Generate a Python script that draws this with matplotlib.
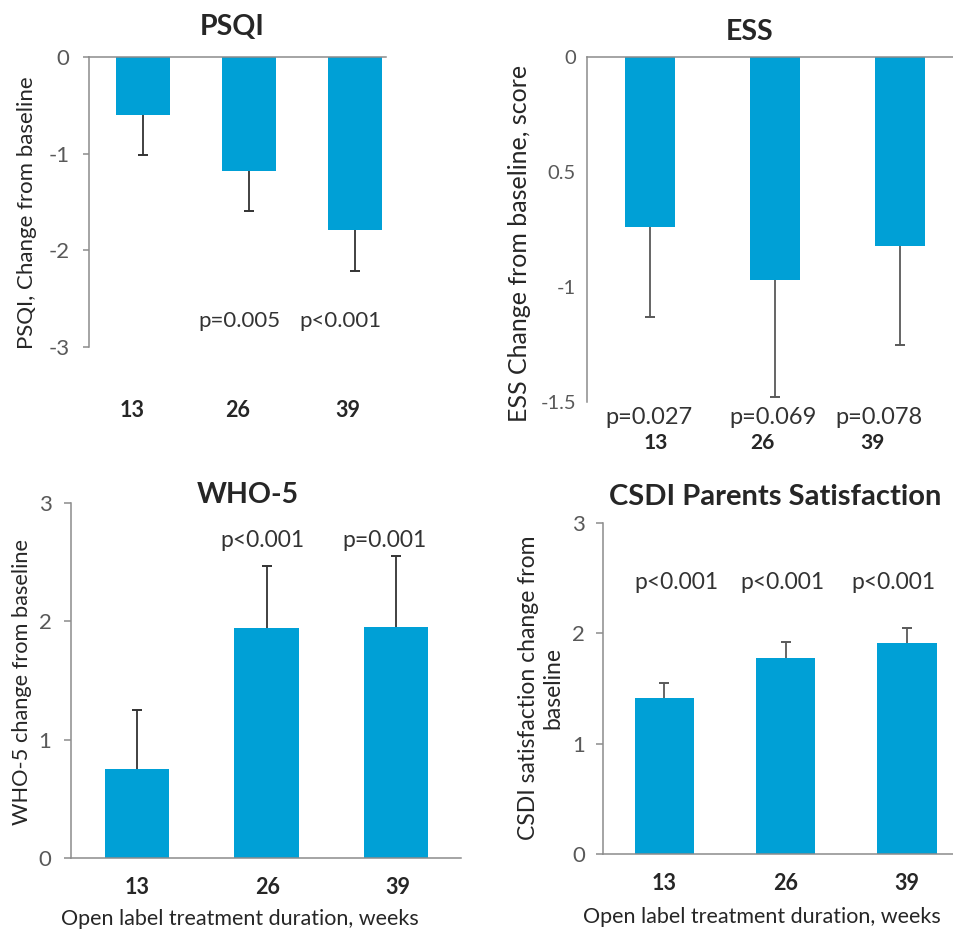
import numpy as np
import matplotlib
matplotlib.use("Agg")
import matplotlib.pyplot as plt
from matplotlib.transforms import blended_transform_factory

plt.rcParams['font.family'] = ['Lato', 'DejaVu Sans']

# ---------------- data ----------------
weeks = ["13", "26", "39"]

psqi_mean = [-0.60, -1.18, -1.79]
psqi_err = [0.41, 0.41, 0.42]
psqi_p = ["", "p=0.005", "p<0.001"]

ess_mean = [-0.74, -0.97, -0.82]
ess_err = [0.39, 0.51, 0.43]
ess_p = ["p=0.027", "p=0.069", "p=0.078"]

who_mean = [0.75, 1.94, 1.95]
who_err = [0.50, 0.53, 0.60]
who_p = ["", "p<0.001", "p=0.001"]

csdi_mean = [1.41, 1.78, 1.91]
csdi_err = [0.14, 0.14, 0.14]
csdi_p = ["p<0.001", "p<0.001", "p<0.001"]

psqi_yticks = [0, -1, -2, -3]
psqi_yticklabels = ["0", "-1", "-2", "-3"]
ess_yticks = [0, -0.5, -1, -1.5]
ess_yticklabels = ["0", "0.5", "-1", "-1.5"]
pos_yticks = [0, 1, 2, 3]
pos_yticklabels = ["0", "1", "2", "3"]

# ---------------- style ----------------
W, H = 954, 931
BAR = '#00A0D6'
AXC = '#8C8C8C'
TXT = '#262626'
TICKC = '#595959'

fig = plt.figure(figsize=(W / 100, H / 100), dpi=100)


def px_axes(l, r, t, b):
    return fig.add_axes([l / W, 1 - b / H, (r - l) / W, (b - t) / H])


def ftext(x, y, s, **kw):
    fig.text(x / W, 1 - y / H, s, ha='center', va='center', **kw)


def style(ax, top_zero, tick_len, pad, tsize):
    for s in ax.spines.values():
        s.set_visible(False)
    ax.spines['left'].set_visible(True)
    ax.spines['left'].set_color(AXC)
    ax.spines['left'].set_linewidth(1.1)
    key = 'top' if top_zero else 'bottom'
    ax.spines[key].set_visible(True)
    ax.spines[key].set_color(AXC)
    ax.spines[key].set_linewidth(1.1)
    ax.set_xticks([])
    ax.tick_params(axis='y', direction='out', length=tick_len, width=1.1,
                   color=AXC, pad=pad, labelsize=tsize, labelcolor=TICKC)


def draw(ax, mean, err, width, negative, ecolor):
    x = np.arange(len(mean))
    m = np.array(mean)
    e = np.array(err)
    ends = m - e if negative else m + e
    ax.bar(x, m, width=width, color=BAR, zorder=2)
    ax.vlines(x, m, ends, colors=ecolor, linewidth=1.3, zorder=3)
    ax.plot(x, ends, linestyle='none', marker='_', markersize=7.5,
            markeredgewidth=1.4, color=ecolor, zorder=3)
    return x


# ---- PSQI ----
ax1 = px_axes(89, 386, 57, 347)
x = draw(ax1, psqi_mean, psqi_err, 0.51, True, '#333333')
ax1.set_xlim(-0.509, 2.292)
ax1.set_ylim(-3, 0)
ax1.set_yticks(psqi_yticks)
ax1.set_yticklabels(psqi_yticklabels)
style(ax1, True, 4, 10, 16)
tr = blended_transform_factory(ax1.transData, ax1.transAxes)
for xi, lab, dx in zip(x, weeks, [-0.10, -0.11, -0.07]):
    ax1.text(xi + dx, -0.22, lab, transform=tr, ha='center', va='center',
             fontsize=15.5, fontweight='bold', color=TXT)
for xi, p, dx in zip(x, psqi_p, [0, -0.094, -0.14]):
    if p:
        ax1.text(xi + dx, -2.73, p, ha='center', va='center', fontsize=16, color='#333333')
ftext(232, 27, "PSQI", fontsize=20.5, fontweight='bold', color=TXT)
ftext(27, 213, "PSQI, Change from baseline", fontsize=16, rotation=90, color=TXT)

# ---- ESS ----
ax2 = px_axes(587, 954, 57, 402)
x = draw(ax2, ess_mean, ess_err, 0.40, True, '#595959')
ax2.set_xlim(-0.504, 2.432)
ax2.set_ylim(-1.5, 0)
ax2.set_yticks(ess_yticks)
ax2.set_yticklabels(ess_yticklabels)
style(ax2, True, 0, 8, 14.5)
tr = blended_transform_factory(ax2.transData, ax2.transAxes)
for xi, lab, dx in zip(x, weeks, [0.05, -0.10, -0.22]):
    ax2.text(xi + dx, -0.119, lab, transform=tr, ha='center', va='center',
             fontsize=15, fontweight='bold', color=TXT)
for xi, p, dx in zip(x, ess_p, [-0.008, -0.016, -0.168]):
    ax2.text(xi + dx, -0.046, p, transform=tr, ha='center', va='center',
             fontsize=17, color='#333333')
ftext(750, 32, "ESS", fontsize=20.5, fontweight='bold', color=TXT)
ftext(520, 243, "ESS Change from baseline, score", fontsize=18, rotation=90, color=TXT)

# ---- WHO-5 ----
ax3 = px_axes(71, 461, 503, 858)
x = draw(ax3, who_mean, who_err, 0.50, False, '#333333')
ax3.set_xlim(-0.51, 2.502)
ax3.set_ylim(0, 3)
ax3.set_yticks(pos_yticks)
ax3.set_yticklabels(pos_yticklabels)
style(ax3, False, 5, 9, 16)
tr = blended_transform_factory(ax3.transData, ax3.transAxes)
for xi, lab, dx in zip(x, weeks, [0.0, 0.01, 0.015]):
    ax3.text(xi + dx, -0.0845, lab, transform=tr, ha='center', va='center',
             fontsize=15.5, fontweight='bold', color=TXT)
for xi, p, dx in zip(x, who_p, [0, -0.035, -0.085]):
    if p:
        ax3.text(xi + dx, 2.68, p, ha='center', va='center', fontsize=16.5, color='#333333')
ftext(248, 495, "WHO-5", fontsize=20.5, fontweight='bold', color=TXT)
ftext(22, 682, "WHO-5 change from baseline", fontsize=15.7, rotation=90, color=TXT)
ftext(240, 919, "Open label treatment duration, weeks", fontsize=15.5, color=TXT)

# ---- CSDI ----
ax4 = px_axes(603, 954, 523, 854)
x = draw(ax4, csdi_mean, csdi_err, 0.49, False, '#595959')
ax4.set_xlim(-0.507, 2.388)
ax4.set_ylim(0, 3)
ax4.set_yticks(pos_yticks)
ax4.set_yticklabels(pos_yticklabels)
style(ax4, False, 5, 8, 16)
tr = blended_transform_factory(ax4.transData, ax4.transAxes)
for xi, lab in zip(x, weeks):
    ax4.text(xi, -0.0906, lab, transform=tr, ha='center', va='center',
             fontsize=15.5, fontweight='bold', color=TXT)
for xi, p, dx in zip(x, csdi_p, [0.095, -0.03, -0.11]):
    ax4.text(xi + dx, 2.46, p, ha='center', va='center', fontsize=16.5, color='#333333')
ftext(775, 497, "CSDI Parents Satisfaction", fontsize=21, fontweight='bold', color=TXT)
ftext(541, 688, "CSDI satisfaction change from\nbaseline", fontsize=16.5, rotation=90,
      color=TXT, linespacing=1.2)
ftext(762, 917, "Open label treatment duration, weeks", fontsize=15.5, color=TXT)

fig.savefig("out.png", dpi=100)
